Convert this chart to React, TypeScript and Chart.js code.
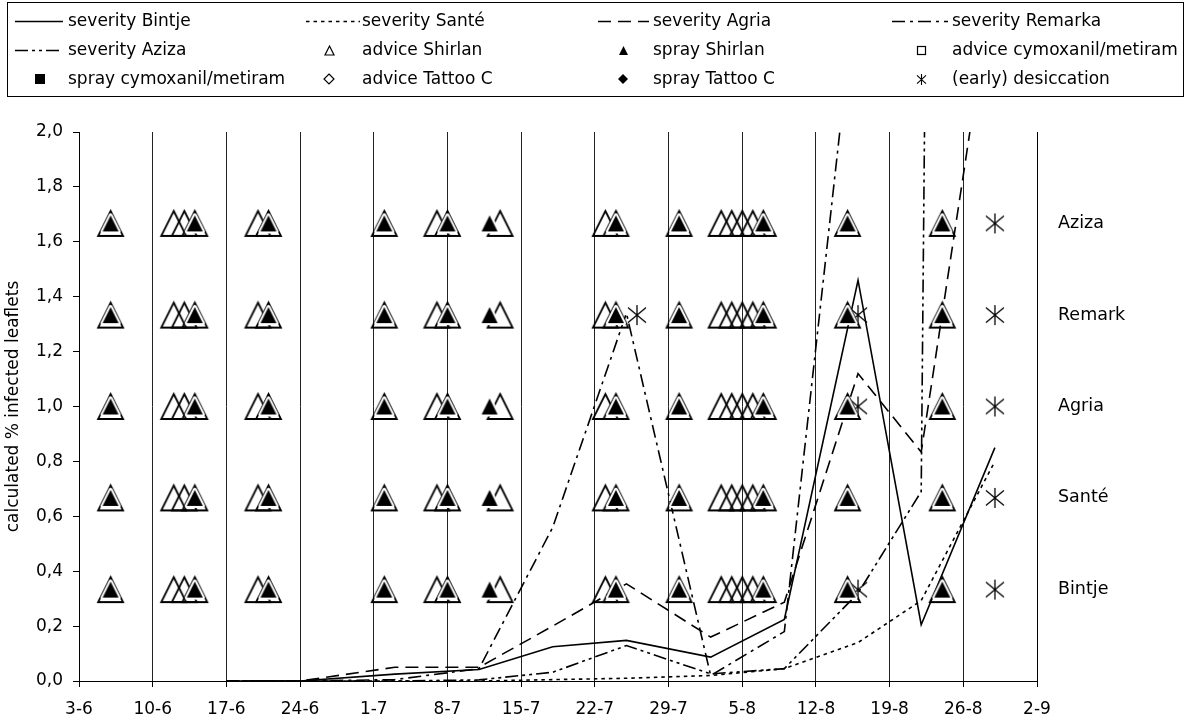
import React, { useEffect, useRef } from 'react';
import { Chart, registerables } from 'chart.js';

Chart.register(...registerables);

const FONT = 'DejaVu Sans';

// ---- axis / tick labels ----
const xTickLabels = ['3-6', '10-6', '17-6', '24-6', '1-7', '8-7', '15-7', '22-7', '29-7', '5-8', '12-8', '19-8', '26-8', '2-9'];
const yTickLabels = ['0,0', '0,2', '0,4', '0,6', '0,8', '1,0', '1,2', '1,4', '1,6', '1,8', '2,0'];
const rowLabels = ['Bintje', 'Santé', 'Agria', 'Remark', 'Aziza'];
const rowValues = [0.333, 0.667, 1.0, 1.333, 1.667];

// ---- severity observations (calculated % infected leaflets) ----
const observationDates = ['17-6', '24-6', '3-7', '11-7', '18-7', '25-7', '2-8', '9-8', '16-8', '22-8', '29-8'];
const severityBintje = [0, 0, 0.025, 0.042, 0.125, 0.148, 0.087, 0.224, 1.46, 0.205, 0.85];
const severitySante = [0, 0, 0, 0, 0.005, 0.01, 0.02, 0.045, 0.14, 0.293, 0.8];
const severityAgria = [0, 0, 0.05, 0.05, 0.2, 0.354, 0.16, 0.287, 1.12, 0.834, 2.6];
const severityRemarka = [0, 0, 0.005, 0.045, 0.56, 1.34, 0.02, 0.18, 2.6, null, null];
const severityAziza = [0, 0, 0, 0.004, 0.032, 0.129, 0.026, 0.045, 0.32, 0.69, 30];

// ---- advice / spray dates (same for every variety row) ----
const adviceShirlanDates = ['6-6', '12-6', '13-6', '14-6', '20-6', '21-6', '2-7', '7-7', '8-7', '13-7', '23-7', '24-7', '30-7', '3-8', '4-8', '5-8', '6-8', '7-8', '15-8', '24-8'];
const sprayShirlanDates = ['6-6', '14-6', '21-6', '2-7', '8-7', '12-7', '24-7', '30-7', '7-8', '15-8', '24-8'];
const adviceCymoxanilDates: string[] = [];
const sprayCymoxanilDates: string[] = [];
const adviceTattooDates: string[] = [];
const sprayTattooDates: string[] = [];

// ---- (early) desiccation per variety row ----
const desiccationBintje = ['16-8', '29-8'];
const desiccationSante = ['29-8'];
const desiccationAgria = ['16-8', '29-8'];
const desiccationRemark = ['26-7', '16-8', '29-8'];
const desiccationAziza = ['29-8'];

const MONTH_OFFSET: Record<number, number> = { 6: 0, 7: 30, 8: 61, 9: 92 };
function dayNumber(label: string): number {
  const [d, m] = label.split('-').map(Number);
  return MONTH_OFFSET[m] + d - 3;
}

function makeCanvas(w: number, h: number, draw: (ctx: CanvasRenderingContext2D) => void) {
  const c = document.createElement('canvas');
  c.width = w;
  c.height = h;
  const ctx = c.getContext('2d')!;
  draw(ctx);
  return c;
}

function trianglePath(ctx: CanvasRenderingContext2D, cx: number, cy: number, w: number, h: number) {
  ctx.beginPath();
  ctx.moveTo(cx, cy - h / 2);
  ctx.lineTo(cx + w / 2, cy + h / 2);
  ctx.lineTo(cx - w / 2, cy + h / 2);
  ctx.closePath();
}

function openTriangle(size: number, lw: number) {
  const s = size + 8;
  return makeCanvas(s, s, (ctx) => {
    trianglePath(ctx, s / 2, s / 2, size, size);
    ctx.lineWidth = lw;
    ctx.strokeStyle = '#000';
    ctx.lineJoin = 'miter';
    ctx.stroke();
  });
}

function filledTriangle(size: number, halo: number) {
  const s = size + 8;
  return makeCanvas(s, s, (ctx) => {
    trianglePath(ctx, s / 2, s / 2, size, size);
    if (halo > 0) {
      ctx.lineWidth = halo * 2;
      ctx.strokeStyle = '#fff';
      ctx.lineJoin = 'round';
      ctx.stroke();
    }
    ctx.fillStyle = '#000';
    ctx.fill();
  });
}

function square(size: number, filled: boolean) {
  const s = size + 4;
  return makeCanvas(s, s, (ctx) => {
    if (filled) {
      ctx.fillStyle = '#000';
      ctx.fillRect(2, 2, size, size);
    } else {
      ctx.lineWidth = 1.2;
      ctx.strokeStyle = '#000';
      ctx.strokeRect(2.5, 2.5, size - 1, size - 1);
    }
  });
}

function diamond(size: number, filled: boolean) {
  const s = size + 4;
  return makeCanvas(s, s, (ctx) => {
    const c = s / 2;
    const r = size / 2;
    ctx.beginPath();
    ctx.moveTo(c, c - r);
    ctx.lineTo(c + r, c);
    ctx.lineTo(c, c + r);
    ctx.lineTo(c - r, c);
    ctx.closePath();
    if (filled) {
      ctx.fillStyle = '#000';
      ctx.fill();
    } else {
      ctx.lineWidth = 1.2;
      ctx.strokeStyle = '#000';
      ctx.stroke();
    }
  });
}

function asterisk(w: number, h: number, lw: number) {
  const s = Math.max(w, h) + 4;
  return makeCanvas(s, s, (ctx) => {
    const c = s / 2;
    ctx.strokeStyle = '#000';
    ctx.lineWidth = lw;
    ctx.beginPath();
    ctx.moveTo(c, c - h / 2);
    ctx.lineTo(c, c + h / 2);
    ctx.moveTo(c - w / 2, c - h * 0.37);
    ctx.lineTo(c + w / 2, c + h * 0.37);
    ctx.moveTo(c + w / 2, c - h * 0.37);
    ctx.lineTo(c - w / 2, c + h * 0.37);
    ctx.stroke();
  });
}

const legendPlugin = {
  id: 'gridLegend',
  afterDraw(chart: any) {
    const ctx: CanvasRenderingContext2D = chart.ctx;
    ctx.save();
    ctx.strokeStyle = '#000';
    ctx.lineWidth = 1;
    ctx.setLineDash([]);
    ctx.strokeRect(7.5, 2.5, 1176, 94);
    const sampleStart = [15, 306, 598, 892];
    const sampleEnd = [63, 360, 649, 948];
    const markerX = [40, 329, 623, 921];
    const textX = [68, 362, 653, 952];
    const rowY = [21, 50, 79];
    ctx.font = `17px "${FONT}"`;
    ctx.textBaseline = 'middle';
    ctx.textAlign = 'left';
    chart.data.datasets.forEach((ds: any, i: number) => {
      const r = Math.floor(i / 4);
      const c = i % 4;
      const y = rowY[r];
      if (ds.legendSymbol) {
        const img = ds.legendSymbol as HTMLCanvasElement;
        ctx.drawImage(img, Math.round(markerX[c] - img.width / 2), Math.round(y - img.height / 2));
      } else {
        ctx.save();
        ctx.strokeStyle = '#000';
        ctx.lineWidth = 1.6;
        ctx.setLineDash(ds.borderDash || []);
        ctx.beginPath();
        ctx.moveTo(sampleStart[c], y + 0.5);
        ctx.lineTo(sampleEnd[c], y + 0.5);
        ctx.stroke();
        ctx.restore();
      }
      ctx.fillStyle = '#000';
      ctx.fillText(ds.label, textX[c], y + 1);
    });
    ctx.restore();
  },
};

export default function App() {
  const ref = useRef<HTMLCanvasElement>(null);

  useEffect(() => {
    document.body.style.margin = '0';
    const canvas = ref.current!;

    const symOpenTri = openTriangle(25, 1.8);
    const symFilledTri = filledTriangle(16, 2);
    const symAsterisk = asterisk(18, 20, 1.3);
    const legOpenTri = openTriangle(9, 1.2);
    const legFilledTri = filledTriangle(9, 0);
    const legOpenSq = square(9, false);
    const legFilledSq = square(10, true);
    const legOpenDia = diamond(10, false);
    const legFilledDia = diamond(10, true);
    const legAsterisk = asterisk(9, 11, 1.1);

    const line = (label: string, values: (number | null)[], dash: number[]) => ({
      label,
      showLine: true,
      data: observationDates.map((d, i) => ({ x: dayNumber(d), y: values[i] })),
      borderColor: '#000',
      backgroundColor: '#000',
      borderWidth: 1.6,
      borderDash: dash,
      pointRadius: 0,
      pointHoverRadius: 0,
      fill: false,
      tension: 0,
      spanGaps: false,
      order: 10,
    });

    const markers = (label: string, dates: string[], img: HTMLCanvasElement, legend: HTMLCanvasElement, order: number) => ({
      label,
      showLine: false,
      data: rowValues.flatMap((v) => dates.map((d) => ({ x: dayNumber(d), y: v }))),
      pointStyle: img,
      pointRadius: 12,
      pointHoverRadius: 12,
      borderWidth: 0,
      legendSymbol: legend,
      order,
    });

    const desiccationRows = [desiccationBintje, desiccationSante, desiccationAgria, desiccationRemark, desiccationAziza];
    const desiccationData = desiccationRows.flatMap((dates, r) => dates.map((d) => ({ x: dayNumber(d), y: rowValues[r] })));

    const datasets: any[] = [
      line('severity Bintje', severityBintje, []),
      line('severity Santé', severitySante, [3.5, 4]),
      line('severity Agria', severityAgria, [13, 7]),
      line('severity Remarka', severityRemarka, [13, 5, 3, 5]),
      line('severity Aziza', severityAziza, [13, 4, 3, 4, 3, 4]),
      markers('advice Shirlan', adviceShirlanDates, symOpenTri, legOpenTri, 5),
      markers('spray Shirlan', sprayShirlanDates, symFilledTri, legFilledTri, 1),
      markers('advice cymoxanil/metiram', adviceCymoxanilDates, legOpenSq, legOpenSq, 5),
      markers('spray cymoxanil/metiram', sprayCymoxanilDates, legFilledSq, legFilledSq, 1),
      markers('advice Tattoo C', adviceTattooDates, legOpenDia, legOpenDia, 5),
      markers('spray Tattoo C', sprayTattooDates, legFilledDia, legFilledDia, 1),
      {
        label: '(early) desiccation',
        showLine: false,
        data: desiccationData,
        pointStyle: symAsterisk,
        pointRadius: 12,
        pointHoverRadius: 12,
        borderWidth: 0,
        legendSymbol: legAsterisk,
        order: 2,
      },
    ];

    const tickFont = { family: FONT, size: 17 };

    const chart = new Chart(canvas, {
      type: 'scatter',
      data: { datasets },
      plugins: [legendPlugin],
      options: {
        responsive: false,
        animation: false,
        events: [],
        layout: { padding: { top: 132, left: 0, right: 0, bottom: 0 } },
        plugins: {
          legend: { display: false },
          tooltip: { enabled: false },
        },
        scales: {
          x: {
            type: 'linear',
            position: 'bottom',
            min: dayNumber(xTickLabels[0]),
            max: dayNumber(xTickLabels[xTickLabels.length - 1]),
            afterBuildTicks: (scale: any) => {
              scale.ticks = xTickLabels.map((l) => ({ value: dayNumber(l) }));
            },
            afterFit: (scale: any) => {
              scale.height = 41;
            },
            ticks: {
              autoSkip: false,
              maxRotation: 0,
              padding: 12,
              color: '#000',
              font: tickFont,
              callback: (_v: any, i: number) => xTickLabels[i],
            },
            grid: {
              color: '#222',
              lineWidth: 1,
              drawTicks: true,
              tickLength: 6,
              tickColor: '#000',
            },
            border: { display: true, color: '#000', width: 1 },
          },
          y: {
            type: 'linear',
            position: 'left',
            min: 0,
            max: 2,
            afterBuildTicks: (scale: any) => {
              scale.ticks = yTickLabels.map((l) => ({ value: parseFloat(l.replace(',', '.')) }));
            },
            afterFit: (scale: any) => {
              scale.width = 79;
            },
            ticks: {
              autoSkip: false,
              padding: 10,
              color: '#000',
              font: tickFont,
              callback: (_v: any, i: number) => yTickLabels[i],
            },
            grid: {
              drawOnChartArea: false,
              drawTicks: true,
              tickLength: 6,
              tickColor: '#000',
            },
            border: { display: true, color: '#000', width: 1 },
            title: {
              display: true,
              text: 'calculated % infected leaflets',
              color: '#000',
              font: { family: FONT, size: 17 },
              padding: { top: 3, bottom: 0 },
            },
          },
          y2: {
            type: 'linear',
            position: 'right',
            min: 0,
            max: 2,
            afterBuildTicks: (scale: any) => {
              scale.ticks = rowValues.map((v) => ({ value: v }));
            },
            afterFit: (scale: any) => {
              scale.width = 157;
            },
            ticks: {
              autoSkip: false,
              padding: 21,
              color: '#000',
              font: { family: FONT, size: 17.5 },
              callback: (_v: any, i: number) => rowLabels[i],
            },
            grid: {
              drawOnChartArea: false,
              drawTicks: false,
            },
            border: { display: true, color: '#000', width: 1 },
          },
        },
      } as any,
    });

    return () => chart.destroy();
  }, []);

  return <canvas ref={ref} width={1194} height={722} style={{ display: 'block', width: '1194px', height: '722px' }} />;
}
